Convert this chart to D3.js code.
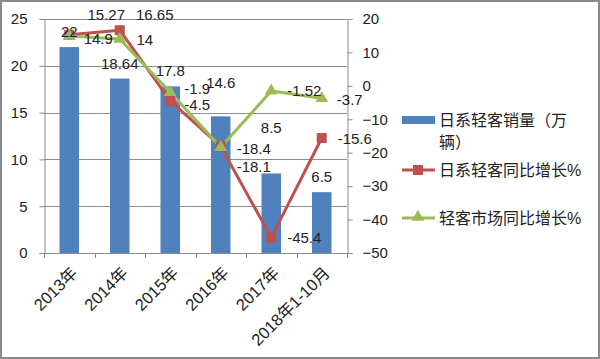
<!DOCTYPE html>
<html><head><meta charset="utf-8">
<script src="https://cdn.jsdelivr.net/npm/d3@7/dist/d3.min.js"></script>
<style>
html,body{margin:0;padding:0;background:#fff;}
svg{display:block;}
text{font-family:"Liberation Sans","Noto Sans CJK SC",sans-serif;fill:#222;}
</style></head>
<body>
<svg id="c" width="600" height="359"></svg>
<script>
const categories = ["2013年","2014年","2015年","2016年","2017年","2018年1-10月"];
const sales = [22, 18.64, 17.8, 14.6, 8.5, 6.5];
const japanGrowth = [15.27, 16.65, -4.5, -18.1, -45.4, -15.6];
const marketGrowth = [14.9, 14, -1.9, -18.4, -1.52, -3.7];
const leftTicks = [0,5,10,15,20,25];
const rightTicks = [-50,-40,-30,-20,-10,0,10,20];
const seriesNames = ["日系轻客销量（万", "辆）", "日系轻客同比增长%", "轻客市场同比增长%"];

// label offsets (style, not data): [dx, dy] from the mark point
const barLabelDy = [-15,-15,-16,-34,-46,-15];
const redLabelOff = [[37,-20],[35,-15],[27,4],[33,20],[33,0],[33,1]];
const greenLabelOff = [[29,3],[25,1],[27,-3],[33,1],[33,0],[28,2]];

const svg = d3.select("#c");
const W = 600, H = 359;
svg.append("rect").attr("x",1).attr("y",1).attr("width",W-2).attr("height",H-2)
  .attr("fill","#fff").attr("stroke","#8a8a8a").attr("stroke-width",2);

const L = 44, R = 347, T = 19, B = 253;
const x = d3.scaleBand().domain(categories).range([L,R]).paddingInner(0).paddingOuter(0);
const yL = d3.scaleLinear().domain([0,25]).range([B,T]);
const yR = d3.scaleLinear().domain([-50,20]).range([B,T]);
const bw = x.bandwidth();
const cx = c => x(c) + bw/2;

const gridColor = "#8c8c8c";
// gridlines
svg.append("g").selectAll("line").data(leftTicks.filter(t=>t>0)).join("line")
  .attr("x1",L).attr("x2",R).attr("y1",d=>Math.round(yL(d))+0.5).attr("y2",d=>Math.round(yL(d))+0.5)
  .attr("stroke",gridColor).attr("stroke-width",1);

// left axis
const gl = svg.append("g").attr("transform",`translate(${L+0.5},0)`)
  .call(d3.axisLeft(yL).tickValues(leftTicks).tickSize(5).tickPadding(12).tickFormat(d3.format("d")));
// right axis
const gr = svg.append("g").attr("transform",`translate(${R+0.5},0)`)
  .call(d3.axisRight(yR).tickValues(rightTicks).tickSize(5).tickPadding(10).tickFormat(d3.format("d")));
[gl,gr].forEach(g=>{
  g.select(".domain").attr("stroke",gridColor);
  g.selectAll(".tick line").attr("stroke",gridColor);
  g.selectAll(".tick text").attr("font-size",15).attr("fill","#222")
    .attr("font-family",'"Liberation Sans","Noto Sans CJK SC",sans-serif');
});

// bars
svg.append("g").selectAll("rect").data(sales).join("rect")
  .attr("x",(d,i)=>cx(categories[i]) - 9.75)
  .attr("width",19.5)
  .attr("y",d=>yL(d)).attr("height",d=>B - yL(d))
  .attr("fill","#4F81BD");

// x axis
const xAxisG = svg.append("g");
xAxisG.append("line").attr("x1",L).attr("x2",R).attr("y1",B+0.5).attr("y2",B+0.5).attr("stroke",gridColor);
const bounds = categories.map(c=>x(c)).concat([R]);
xAxisG.selectAll("line.tk").data(bounds).join("line").attr("class","tk")
  .attr("x1",d=>Math.round(d)+0.5).attr("x2",d=>Math.round(d)+0.5).attr("y1",B).attr("y2",B+5).attr("stroke",gridColor);
xAxisG.selectAll("text").data(categories).join("text")
  .attr("transform",d=>`translate(${cx(d)+5},${B+17}) rotate(-45)`)
  .attr("text-anchor","end").attr("dy","0.35em").attr("font-size",16.5).text(d=>d);

// lines
const line = (scale)=>d3.line().x((d,i)=>cx(categories[i])).y(d=>scale(d));
svg.append("path").datum(japanGrowth).attr("d",line(yR)).attr("fill","none")
  .attr("stroke","#C0504D").attr("stroke-width",3).attr("stroke-linejoin","round");
svg.append("path").datum(marketGrowth).attr("d",line(yR)).attr("fill","none")
  .attr("stroke","#9BBB59").attr("stroke-width",3).attr("stroke-linejoin","round");

// markers
svg.append("g").selectAll("rect").data(japanGrowth).join("rect")
  .attr("x",(d,i)=>cx(categories[i])-5).attr("y",d=>yR(d)-5).attr("width",10).attr("height",10)
  .attr("fill","#C0504D");
const tri = d3.symbol().type(d3.symbolTriangle).size(70);
svg.append("g").selectAll("path").data(marketGrowth).join("path")
  .attr("transform",(d,i)=>`translate(${cx(categories[i])},${yR(d)})`)
  .attr("d",tri).attr("fill","#9BBB59");

// data labels
const lbl = svg.append("g").attr("font-size",15).attr("text-anchor","middle");
lbl.selectAll("text.b").data(sales).join("text").attr("class","b")
  .attr("x",(d,i)=>cx(categories[i])).attr("y",(d,i)=>yL(d)+barLabelDy[i])
  .attr("dy","0.35em").text(d=>d);
lbl.selectAll("text.r").data(japanGrowth).join("text").attr("class","r")
  .attr("x",(d,i)=>cx(categories[i])+redLabelOff[i][0]).attr("y",(d,i)=>yR(d)+redLabelOff[i][1])
  .attr("dy","0.35em").text(d=>d);
lbl.selectAll("text.g").data(marketGrowth).join("text").attr("class","g")
  .attr("x",(d,i)=>cx(categories[i])+greenLabelOff[i][0]).attr("y",(d,i)=>yR(d)+greenLabelOff[i][1])
  .attr("dy","0.35em").text(d=>d);

// legend
const lg = svg.append("g").attr("font-size",16);
lg.append("rect").attr("x",402).attr("y",116).attr("width",33).attr("height",8).attr("fill","#4F81BD");
lg.append("text").attr("x",439).attr("y",120).attr("dy","0.35em").text(seriesNames[0]);
lg.append("text").attr("x",439).attr("y",142).attr("dy","0.35em").text(seriesNames[1]);
lg.append("line").attr("x1",402).attr("x2",435).attr("y1",170).attr("y2",170).attr("stroke","#C0504D").attr("stroke-width",3);
lg.append("rect").attr("x",413).attr("y",165).attr("width",10).attr("height",10).attr("fill","#C0504D");
lg.append("text").attr("x",439).attr("y",170).attr("dy","0.35em").text(seriesNames[2]);
lg.append("line").attr("x1",402).attr("x2",435).attr("y1",218).attr("y2",218).attr("stroke","#9BBB59").attr("stroke-width",3);
lg.append("path").attr("transform","translate(418,217)").attr("d",tri).attr("fill","#9BBB59");
lg.append("text").attr("x",439).attr("y",218).attr("dy","0.35em").text(seriesNames[3]);
</script>
</body></html>
